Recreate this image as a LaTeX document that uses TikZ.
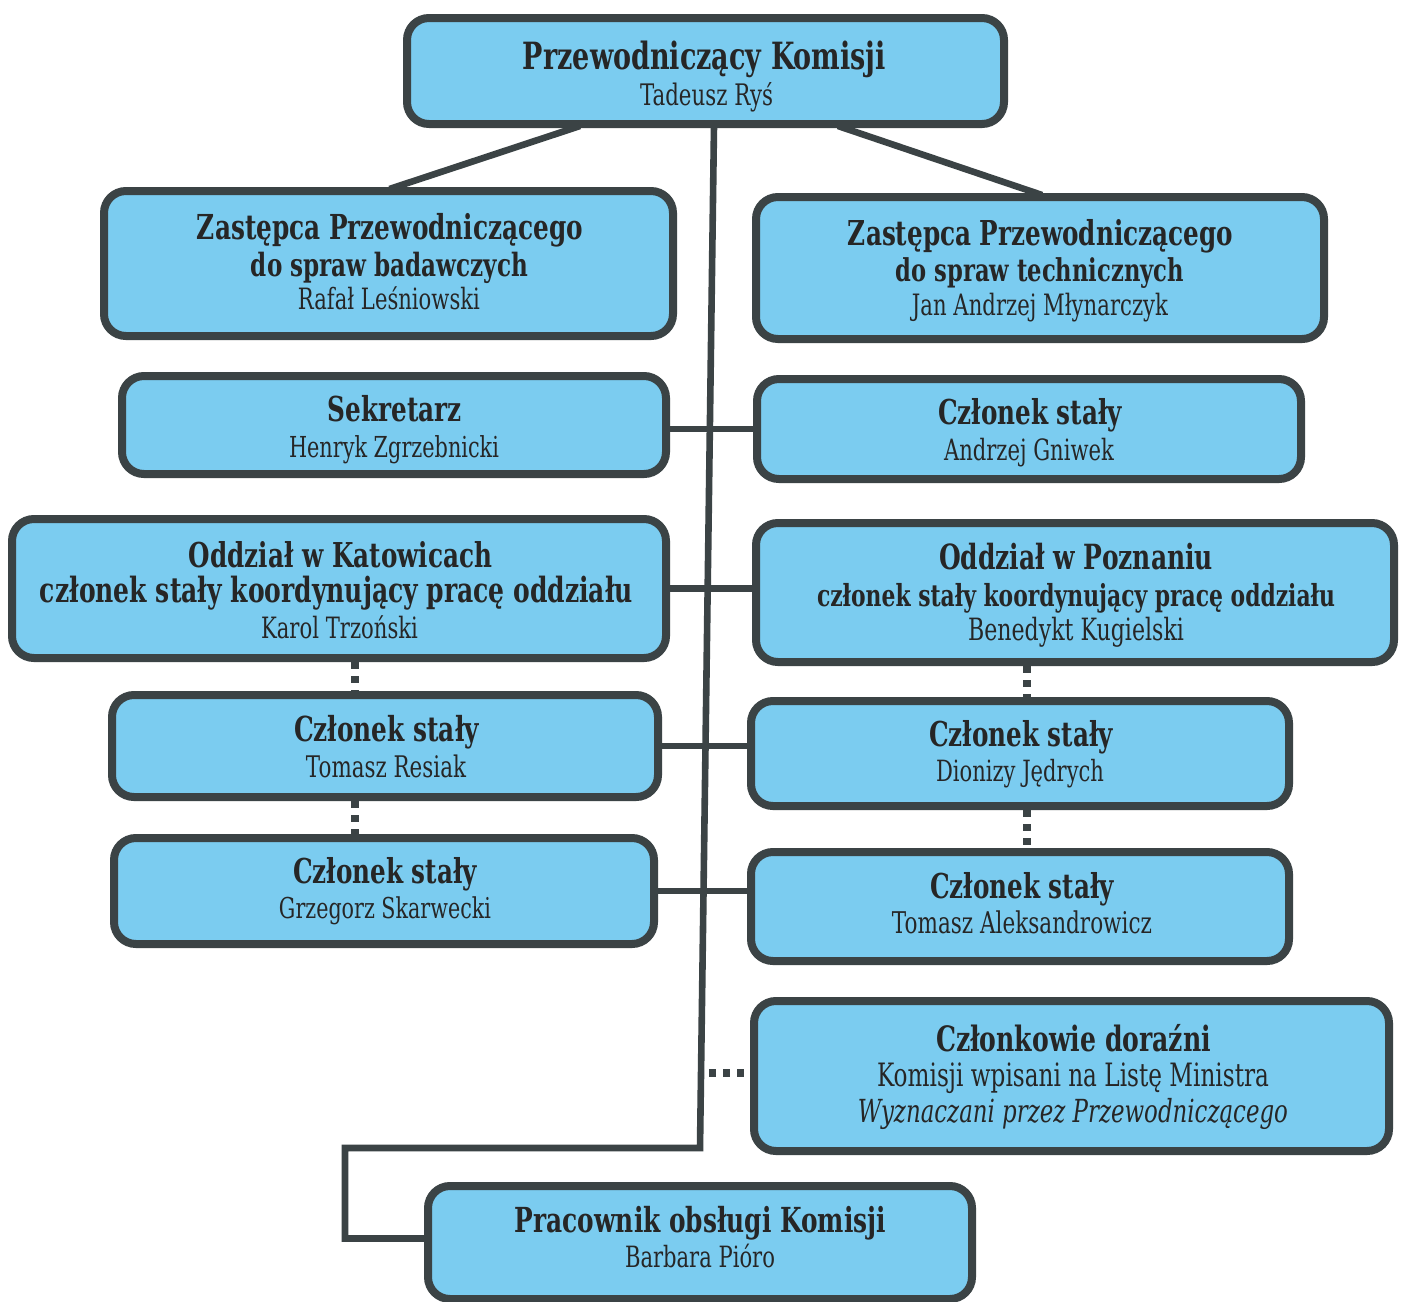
\documentclass[tikz,border=0pt]{standalone}
\usepackage{fontspec}
\setmainfont{DejaVu Serif}[FakeStretch=0.72]
\usetikzlibrary{calc}
\definecolor{boxfill}{HTML}{7BCCF0}
\definecolor{boxline}{HTML}{3B4345}
\definecolor{txt}{HTML}{262626}
\newlength\unitpx
\setlength\unitpx{0.5pt}
\newcommand\fitb[2]{\resizebox{#1\unitpx}{!}{\fontsize{16}{18}\selectfont\bfseries #2}}
\newcommand\fitr[2]{\resizebox{#1\unitpx}{!}{\fontsize{16}{18}\selectfont #2}}
\newcommand\fiti[2]{\resizebox{#1\unitpx}{!}{\fontsize{16}{18}\selectfont\itshape #2}}
\pgfdeclarelayer{bg}
\pgfsetlayers{bg,main}
\tikzset{
  box/.style={draw=boxline, line width=4pt, fill=boxfill, rounded corners=11pt, inner sep=0pt},
  bx/.style 2 args={box, minimum width=#1*0.5pt, minimum height=#2*0.5pt},
  lbl/.style={anchor=base, inner sep=0pt, outer sep=0pt, text=txt},
  link/.style={draw=boxline, line width=3.3pt, line join=miter},
  dots/.style={draw=boxline, line width=3.8pt, dash pattern=on 3.6pt off 3.4pt},
}
\begin{document}
\begin{tikzpicture}[x=0.5pt, y=-0.5pt]
\useasboundingbox (0,0) rectangle (1404,1302);

% boxes
\node[bx={597}{106}] (P)  at (705.5,71) {};
\node[bx={569}{145}] (ZB) at (388.5,263.5) {};
\node[bx={568}{142}] (ZT) at (1040,268) {};
\node[bx={544}{98}]  (S)  at (394,425) {};
\node[bx={544}{100}] (G)  at (1029,429) {};
\node[bx={654}{139}] (K)  at (339,588.5) {};
\node[bx={638}{139}] (PZ) at (1075,592.5) {};
\node[bx={546}{102}] (R)  at (385,746) {};
\node[bx={538}{105}] (J)  at (1020,753.5) {};
\node[bx={540}{106}] (SK) at (384,891) {};
\node[bx={538}{109}] (A)  at (1020,906.5) {};
\node[bx={635}{150}] (D)  at (1071.5,1076) {};
\node[bx={544}{113}] (PO) at (700,1242.5) {};

% texts
\node[lbl] (P1) at (704.5,69) {\fitb{363}{Przewodniczący Komisji}};
\node[lbl] (P2) at (706.5,105) {\fitr{133}{Tadeusz Ryś}};

\node[lbl] (ZB1) at (390,239) {\fitb{386}{Zastępca Przewodniczącego}};
\node[lbl] (ZB2) at (389.5,276) {\fitb{277}{do spraw badawczych}};
\node[lbl] (ZB3) at (389,309) {\fitr{182}{Rafał Leśniowski}};

\node[lbl] (ZT1) at (1040.5,245) {\fitb{385}{Zastępca Przewodniczącego}};
\node[lbl] (ZT2) at (1040,281) {\fitb{288}{do spraw technicznych}};
\node[lbl] (ZT3) at (1040,315) {\fitr{256}{Jan Andrzej Młynarczyk}};

\node[lbl] (S1) at (395,421) {\fitb{134}{Sekretarz}};
\node[lbl] (S2) at (394,457) {\fitr{210}{Henryk Zgrzebnicki}};

\node[lbl] (G1) at (1030,424) {\fitb{184}{Członek stały}};
\node[lbl] (G2) at (1029,460) {\fitr{170}{Andrzej Gniwek}};

\node[lbl] (K1) at (340.5,567) {\fitb{303}{Oddział w Katowicach}};
\node[lbl] (K2) at (336.5,602) {\fitb{593}{członek stały koordynujący pracę oddziału}};
\node[lbl] (K3) at (339.5,638) {\fitr{157}{Karol Trzoński}};

\node[lbl] (PZ1) at (1076,569) {\fitb{274}{Oddział w Poznaniu}};
\node[lbl] (PZ2) at (1076,606) {\fitb{518}{członek stały koordynujący pracę oddziału}};
\node[lbl] (PZ3) at (1076,640) {\fitr{216}{Benedykt Kugielski}};

\node[lbl] (R1) at (386.5,741) {\fitb{185}{Członek stały}};
\node[lbl] (R2) at (386,777) {\fitr{160}{Tomasz Resiak}};

\node[lbl] (J1) at (1021,746) {\fitb{184}{Członek stały}};
\node[lbl] (J2) at (1020,781) {\fitr{168}{Dionizy Jędrych}};

\node[lbl] (SK1) at (385,883) {\fitb{184}{Członek stały}};
\node[lbl] (SK2) at (385,918) {\fitr{212}{Grzegorz Skarwecki}};

\node[lbl] (A1) at (1022,898) {\fitb{184}{Członek stały}};
\node[lbl] (A2) at (1022,933) {\fitr{260}{Tomasz Aleksandrowicz}};

\node[lbl] (D1) at (1073.5,1051) {\fitb{275}{Członkowie doraźni}};
\node[lbl] (D2) at (1073,1086) {\fitr{392}{Komisji wpisani na Listę Ministra}};
\node[lbl] (D3) at (1073,1122) {\fiti{430}{Wyznaczani przez Przewodniczącego}};

\node[lbl] (PO1) at (700.5,1232) {\fitb{371}{Pracownik obsługi Komisji}};
\node[lbl] (PO2) at (700,1267) {\fitr{150}{Barbara Pióro}};

% connectors
\begin{pgfonlayer}{bg}
\fill[white] (0,0) rectangle (1404,1302);
\coordinate (spT) at ($(P.south)+(8.5,-2)$);
\coordinate (spB) at (700,1148);
\coordinate (dL) at ($(P.south)+(-125.5,-2)$);
\coordinate (dR) at ($(P.south)+(132.5,-2)$);
\coordinate (kd) at ($(K.south)+(16,0)$);
\coordinate (rd) at ($(R.south)+(-30,0)$);
\coordinate (pd) at ($(PZ.south)+(-48,0)$);
\coordinate (jd) at ($(J.south)+(7,0)$);
\coordinate (dd) at (709,1073);
\coordinate (poc) at ($(PO.west)+(0,-4)$);

\draw[link] (spT) -- (spB) -- (spB -| 345,0) -- (345,0 |- poc) -- (poc);
\draw[link] (dL) -- ($(ZB.north)+(1,2)$);
\draw[link] (dR) -- ($(ZT.north)+(2,2)$);

\draw[link] (G.west) -- (G.west -| S.east);
\draw[link] (K.east) -- (K.east -| PZ.west);
\draw[link] (R.east) -- (R.east -| J.west);
\draw[link] (SK.east) -- (SK.east -| A.west);

\draw[dots] (kd) -- (kd |- R.north);
\draw[dots] (rd) -- (rd |- SK.north);
\draw[dots] (pd) -- (pd |- J.north);
\draw[dots] (jd) -- (jd |- A.north);
\draw[dots] (dd) -- (dd -| D.west);
\end{pgfonlayer}
\end{tikzpicture}
\end{document}
